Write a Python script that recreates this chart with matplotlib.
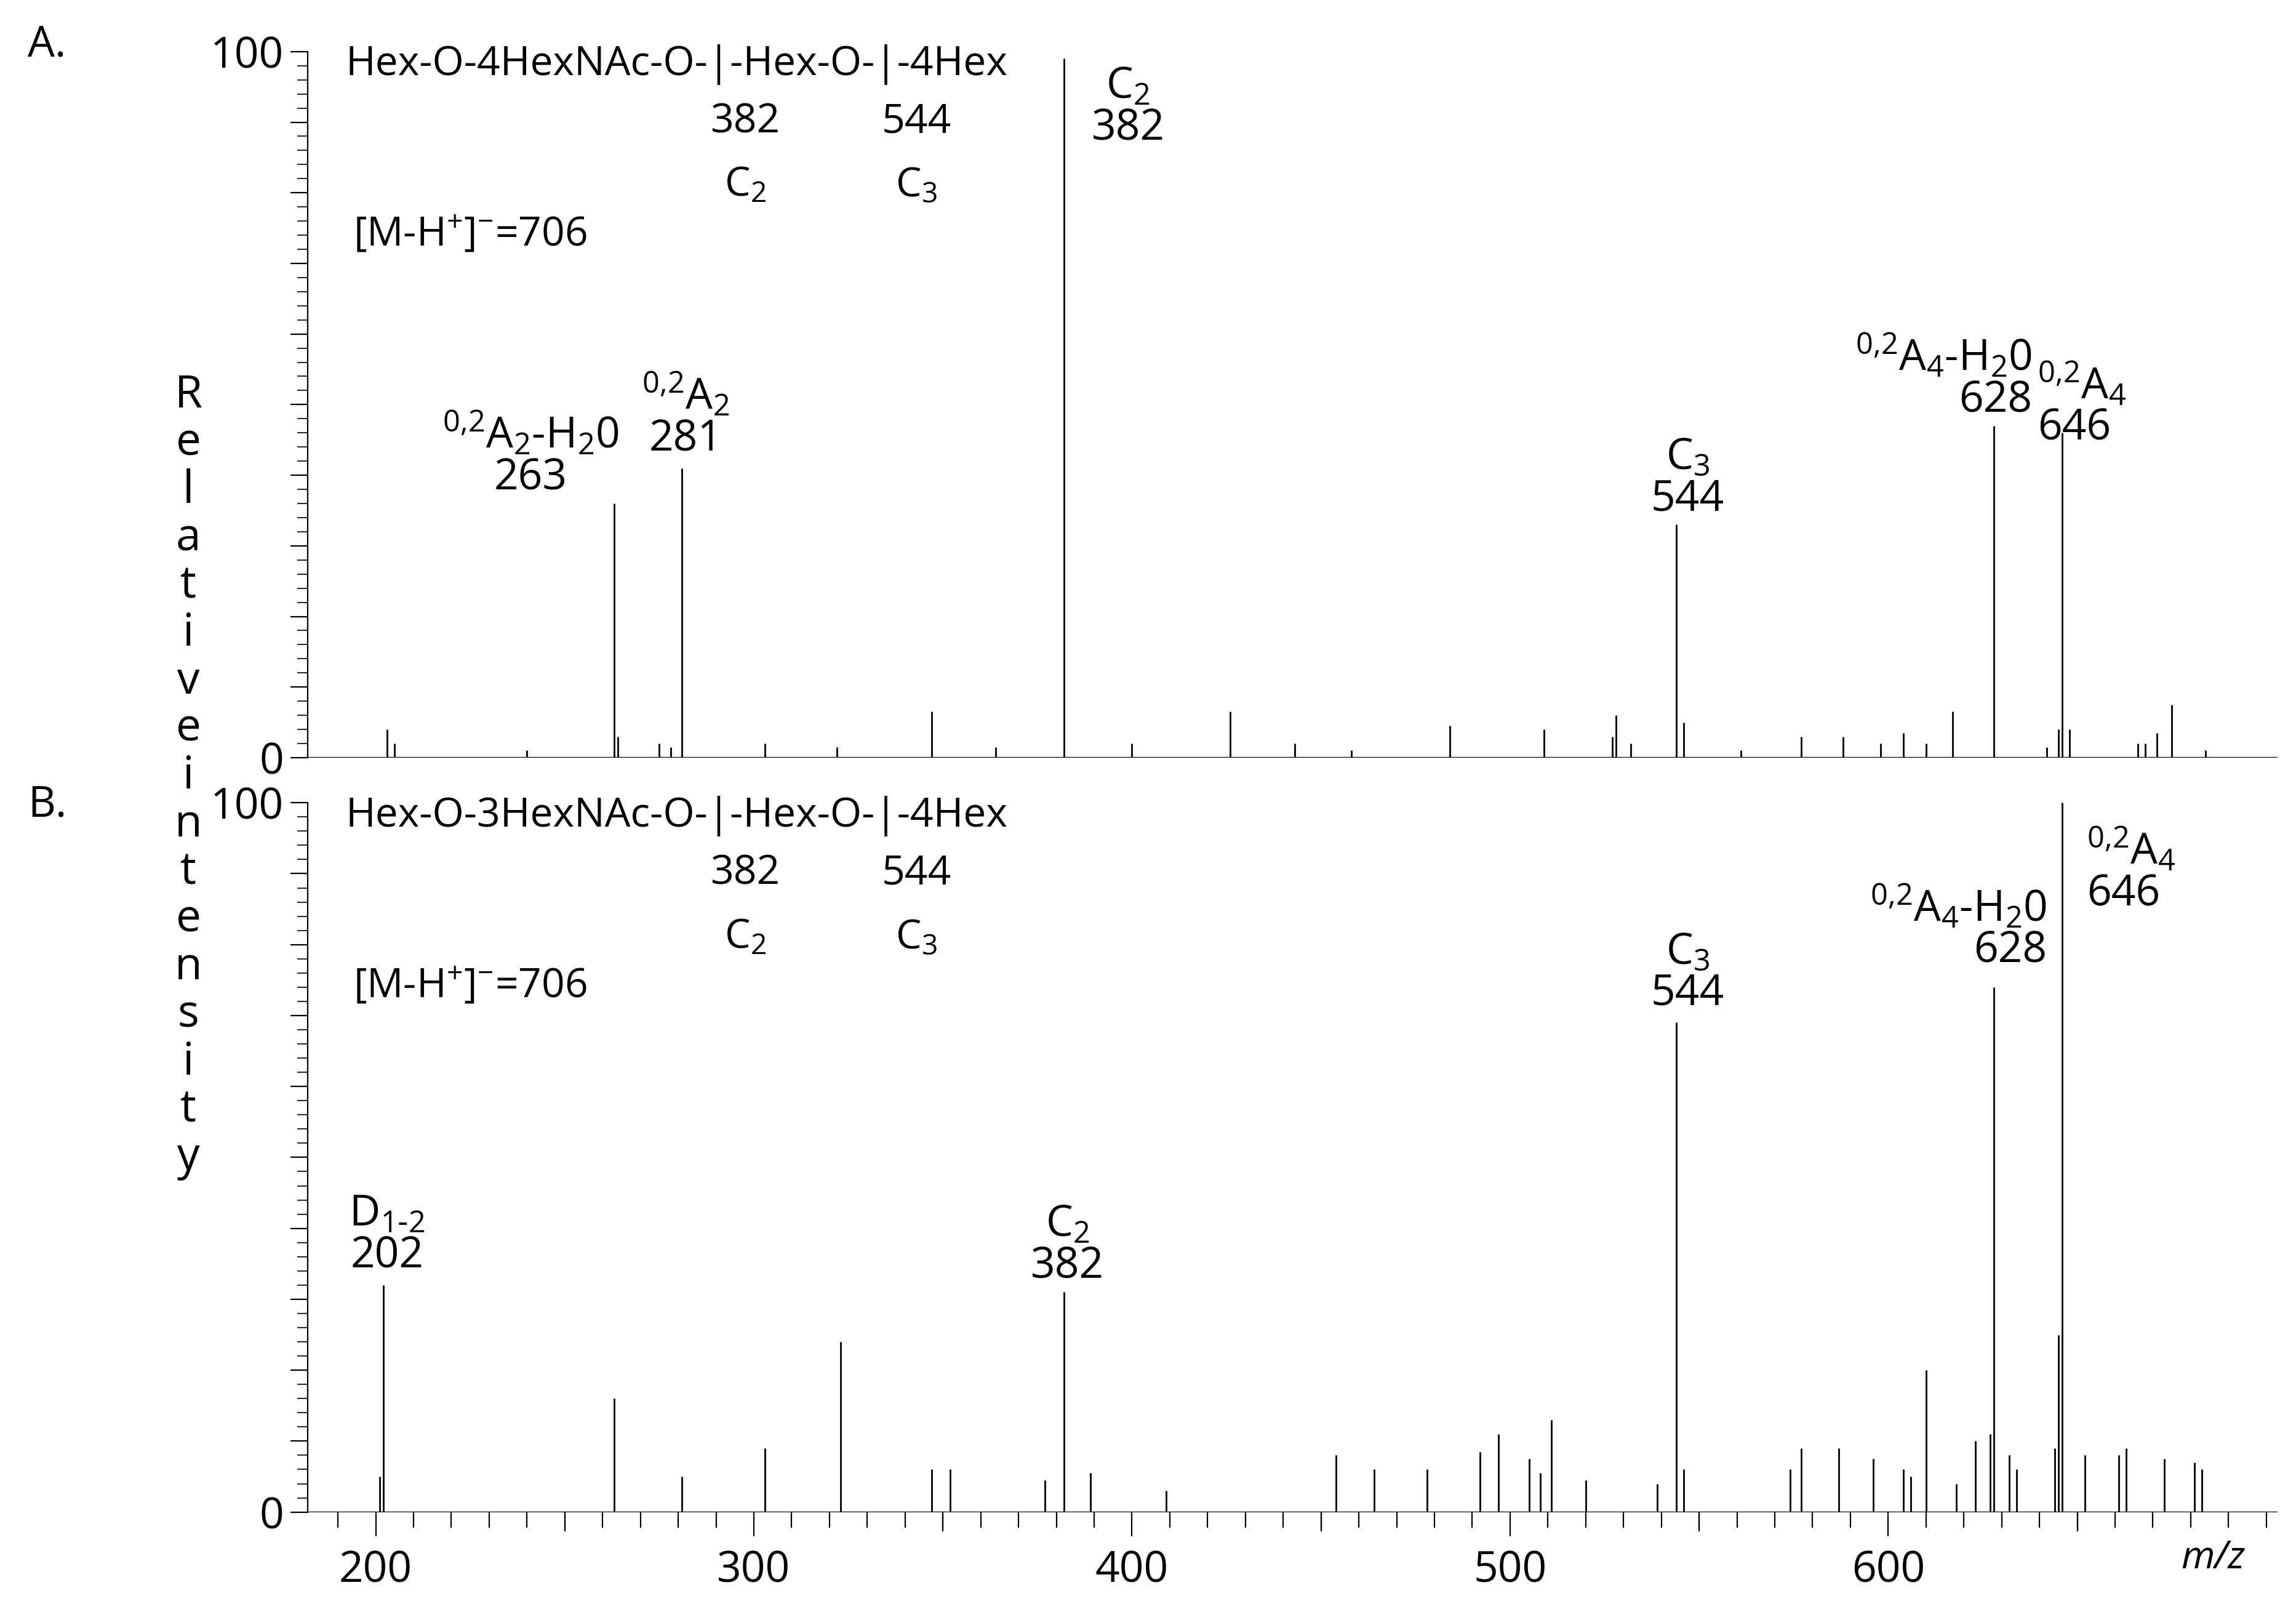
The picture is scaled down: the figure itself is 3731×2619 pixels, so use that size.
import matplotlib
matplotlib.use("Agg")
import matplotlib.pyplot as plt
from matplotlib.ticker import MultipleLocator, FixedLocator

plt.rcParams['font.family'] = ['Open Sans', 'DejaVu Sans']
plt.rcParams['mathtext.default'] = 'regular'

# Panel A peaks
mz_a = [203, 205, 240, 263, 264, 275, 278, 281, 303, 322, 347, 364, 382, 400, 426, 443, 458,
        484, 509, 527, 528, 532, 544, 546, 561, 577, 588, 598, 604, 610, 617, 628, 642, 645,
        646, 648, 666, 668, 671, 675, 684]
int_a = [4, 2, 1, 36, 3, 2, 1.5, 41, 2, 1.5, 6.5, 1.5, 99, 2, 6.5, 2, 1, 4.5, 4, 3, 6, 2,
         33, 5, 1, 3, 3, 2, 3.5, 2, 6.5, 47, 1.5, 4, 46, 4, 2, 2, 3.5, 7.5, 1]
# Panel B peaks
mz_b = [201, 202, 263, 281, 303, 323, 347, 352, 377, 382, 389, 409, 454, 464, 478, 492, 497,
        505, 508, 511, 520, 539, 544, 546, 574, 577, 587, 596, 604, 606, 610, 618, 623, 627,
        628, 632, 634, 644, 645, 646, 652, 661, 663, 673, 681, 683]
int_b = [5, 32, 16, 5, 9, 24, 6, 6, 4.5, 31, 5.5, 3, 8, 6, 6, 8.5, 11, 7.5, 5.5, 13, 4.5, 4,
         69, 6, 6, 9, 9, 7.5, 6, 5, 20, 4, 10, 11, 74, 8, 6, 9, 25, 100, 8, 8, 9, 7.5, 7, 6]

title_a = "Hex-O-4HexNAc-O-|-Hex-O-|-4Hex"
title_b = "Hex-O-3HexNAc-O-|-Hex-O-|-4Hex"
xlim = (182, 703)

S = "$^{0{,}2}$"
labels_a = [(241, 36.5, S + "A$_2$-H$_2$0\n263", 'center'), (282, 42, S + "A$_2$\n281", 'center'),
            (399, 86, "C$_2$\n382", 'center'), (547, 33.5, "C$_3$\n544", 'center'),
            (638, 47.5, S + "A$_4$-H$_2$0\n628", 'right'), (639.5, 43.5, S + "A$_4$\n646", 'left')]
labels_b = [(203, 33, "D$_{1\\text{-}2}$\n202", 'center'), (383, 31.5, "C$_2$\n382", 'center'),
            (547, 70, "C$_3$\n544", 'center'), (642, 76, S + "A$_4$-H$_2$0\n628", 'right'),
            (652.5, 84, S + "A$_4$\n646", 'left')]

fig = plt.figure(figsize=(18.655, 13.095), dpi=200)
axA = fig.add_axes([0.134, 0.530, 0.858, 0.438])
axB = fig.add_axes([0.134, 0.062, 0.858, 0.440])
FS = 25

for ax, mz, it, title, labels in [(axA, mz_a, int_a, title_a, labels_a),
                                  (axB, mz_b, int_b, title_b, labels_b)]:
    ax.vlines(mz, 0, it, color='black', lw=1.0)
    ax.axhline(0, color='black', lw=1.2)
    ax.set_xlim(*xlim)
    ax.set_ylim(0, 100)
    for s in ['top', 'right', 'bottom']:
        ax.spines[s].set_visible(False)
    ax.spines['left'].set_linewidth(0.8)
    ax.yaxis.set_major_locator(MultipleLocator(10))
    ax.yaxis.set_minor_locator(MultipleLocator(2))
    ax.yaxis.set_major_formatter(plt.FuncFormatter(lambda v, p: f"{int(v)}" if v in (0, 100) else ""))
    ax.tick_params(axis='y', which='major', length=10, width=0.8, labelsize=FS, pad=4)
    ax.tick_params(axis='y', which='minor', length=6, width=0.6)
    ax.text(192, 101, title, fontsize=FS*0.95, va='top', ha='left', clip_on=False)
    ax.text(297.7, 90, "382", fontsize=FS*0.95, ha='center', va='center')
    ax.text(297.7, 81, "C$_2$", fontsize=FS*0.95, ha='center', va='center')
    ax.text(343, 90, "544", fontsize=FS*0.95, ha='center', va='center')
    ax.text(343, 81, "C$_3$", fontsize=FS*0.95, ha='center', va='center')
    ax.text(194, 74, "[M-H$^{+}$]$^{-}$=706", fontsize=FS*0.95, ha='left', va='center')
    for x, y, t, ha in labels:
        ax.text(x, y, t, fontsize=FS, ha=ha, va='bottom', multialignment=ha,
                linespacing=0.95)

axA.set_xticks([])
axB.spines['bottom'].set_visible(False)
axB.xaxis.set_major_locator(FixedLocator([200, 300, 400, 500, 600]))
axB.xaxis.set_minor_locator(MultipleLocator(10))
axB.tick_params(axis='x', which='major', length=14, width=0.8, labelsize=FS, pad=8)
axB.tick_params(axis='x', which='minor', length=9, width=0.8)
for x in [250, 350, 450, 550, 650]:
    axB.plot([x, x], [0, -2.6], color='black', lw=0.8, clip_on=False)
axB.text(686, -6.5, "m/z", fontsize=FS*0.9, style='italic', ha='center', va='center')

fig.text(0.012, 0.965, "A.", fontsize=FS)
fig.text(0.012, 0.493, "B.", fontsize=FS)
fig.text(0.082, 0.518, "\n".join("Relative intensity".replace(" ", "")), fontsize=FS*1.05,
         ha='center', va='center', linespacing=1.06)

fig.savefig("out.png", dpi=200, facecolor='white')
